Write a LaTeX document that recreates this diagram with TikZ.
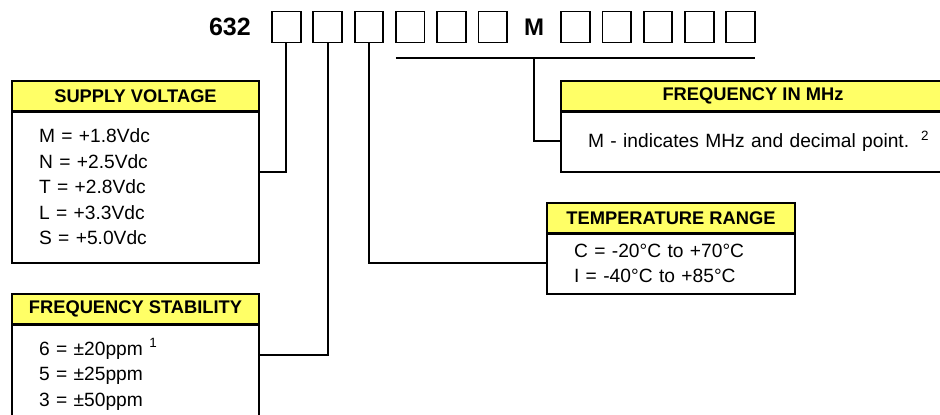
\documentclass[tikz,border=0pt]{standalone}
\usepackage{fontspec}
\setmainfont{Liberation Sans}
\usetikzlibrary{positioning}
\definecolor{hdyellow}{RGB}{255,255,102}

\begin{document}
\begin{tikzpicture}[x=1pt,y=-1pt,
	digit/.style={draw,rectangle,line width=1.8pt,minimum width=28.6pt,minimum height=31pt,inner sep=0pt,outer sep=0pt},
	head/.style={draw,rectangle,fill=hdyellow,line width=2pt,minimum height=30pt,inner sep=0pt,outer sep=0pt,font=\bfseries\fontsize{18.3}{20}\selectfont},
	body/.style={draw,rectangle,line width=2pt,inner xsep=27pt,inner ysep=0pt,outer sep=0pt,align=left,font=\fontsize{19.2}{25.5}\selectfont},
	link/.style={line width=2pt}]
	\useasboundingbox (0,0) rectangle (940,415);
	\clip (0,0) rectangle (940,415);

	% Part number
	% -----------
	\foreach \i in {1,...,6,8,9,10,11,12}
		\node[digit] (d\i) at ({286.3+41.3*(\i-1)},27) {};
	\node[font=\bfseries\fontsize{24}{24}\selectfont,inner sep=0pt] (d7) at ({286.3+41.3*6},27) {M};
	\node[font=\bfseries\fontsize{25}{25}\selectfont,inner sep=0pt,left=21pt of d1] (pre) {632};
	\draw[link] ([yshift=-15pt]d4.south west) coordinate (barL) -- ([yshift=-15pt]d12.south east) coordinate (barR);

	% Supply voltage
	\node[head,minimum width=247pt,anchor=north west] (SVhead) at (12,81) {SUPPLY VOLTAGE};
	\node[body,minimum width=247pt,minimum height=152pt,text width=193pt,below=0pt of SVhead] (SVbody)
		{M = +1.8Vdc\\N = +2.5Vdc\\T = +2.8Vdc\\L = +3.3Vdc\\S = +5.0Vdc};
	\draw[line width=3pt] (SVhead.south west) -- (SVhead.south east);

	% Frequency stability
	\node[head,minimum width=247pt,anchor=north west] (FShead) at (12,294) {FREQUENCY STABILITY};
	\node[body,minimum width=247pt,minimum height=101pt,text width=193pt,below=0pt of FShead] (FSbody)
		{6 = ±20ppm \textsuperscript{1}\\5 = ±25ppm\\3 = ±50ppm};
	\draw[line width=3pt] (FShead.south west) -- (FShead.south east);

	% Temperature range
	\node[head,minimum width=248pt,anchor=north west] (TRhead) at (547,203) {TEMPERATURE RANGE};
	\node[body,minimum width=248pt,minimum height=61pt,text width=194pt,below=0pt of TRhead,font=\fontsize{19.2}{25}\selectfont] (TRbody)
		{C = -20°C to +70°C\\I = -40°C to +85°C};
	\draw[line width=3pt] (TRhead.south west) -- (TRhead.south east);

	% Frequency in MHz
	\node[head,minimum width=384pt,anchor=north west] (FMhead) at (561,81) {FREQUENCY IN MHz};
	\node[body,minimum width=414pt,minimum height=61pt,text width=360pt,anchor=north west] (FMbody) at (FMhead.south west)
		{M - indicates MHz and decimal point.\hspace{12pt}\textsuperscript{2}};
	\draw[line width=3pt] (FMhead.south west) -- (FMhead.south east);

	% Connectors
	\draw[link] (d1.south) |- ([yshift=-61pt]SVbody.north east);
	\draw[link] (d2.south) |- ([yshift=-31pt]FSbody.north east);
	\draw[link] (d3.south) |- ([yshift=-30pt]TRbody.north west);
	\draw[link] (d7 |- barL) |- ([yshift=-30pt]FMbody.north west);
\end{tikzpicture}
\end{document}
